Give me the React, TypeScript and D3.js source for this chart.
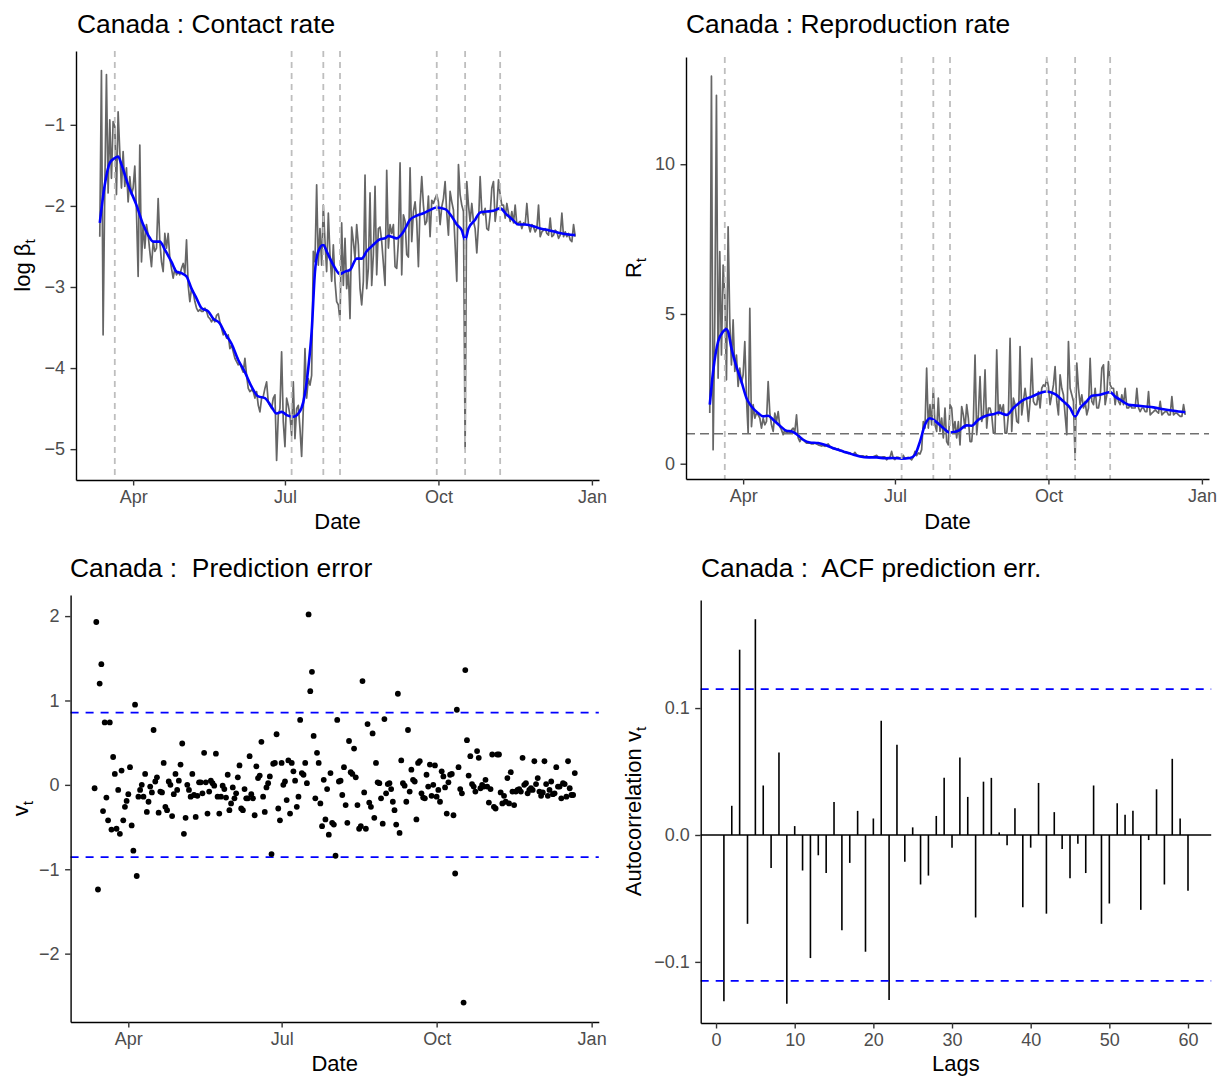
import React, { useEffect, useRef } from 'react';
import * as d3 from 'd3';

const FONT = "'Liberation Sans', Arial, Helvetica, sans-serif";
const W = 1218;
const H = 1077;

// first day of every daily series
const startDate = '2020-03-12';

// dates of the vertical dashed lines
const policyDates = ['2020-03-21', '2020-07-05', '2020-07-24', '2020-08-03', '2020-09-30', '2020-10-17', '2020-11-07'];
const monthTicks = ['2020-04-01', '2020-07-01', '2020-10-01', '2021-01-01'];

// log beta_t, one value per day
const contactRaw = [
  -2.38, -0.33, -3.59, -1.8, -0.38, -1.84, -0.94, -1.66, -0.96, -1.02,
  -1.86, -0.84, -1.33, -1.78, -1.33, -1.76, -1.53, -1.95, -1.64, -1.86,
  -1.78, -1.51, -2.07, -2.87, -1.25, -2.69, -2.23, -2.52, -2.23, -2.36,
  -2.56, -2.75, -2.44, -2.56, -2.52, -1.91, -2.44, -2.69, -2.81, -2.34,
  -2.52, -2.34, -2.65, -2.77, -2.89, -2.77, -2.85, -2.81, -2.85, -2.77,
  -2.71, -2.83, -2.42, -2.98, -3.18, -3.02, -3.06, -3.18, -3.26, -3.3,
  -3.28, -3.3, -3.3, -3.26, -3.3, -3.37, -3.39, -3.43, -3.39, -3.43,
  -3.35, -3.33, -3.43, -3.51, -3.59, -3.55, -3.63, -3.59, -3.76, -3.72,
  -3.8, -3.88, -3.92, -3.96, -3.94, -4.0, -4.05, -3.88, -4.09, -4.25,
  -4.29, -4.27, -4.29, -4.37, -4.29, -4.46, -4.54, -4.37, -4.35, -4.25,
  -4.17, -4.42, -4.46, -4.5, -4.37, -4.33, -5.14, -4.58, -4.5, -3.8,
  -4.66, -4.97, -4.37, -4.46, -4.58, -4.83, -4.17, -4.87, -4.5, -4.46,
  -4.74, -5.09, -4.5, -3.76, -4.37, -4.13, -4.21, -4.09, -2.56, -2.69,
  -1.74, -2.73, -2.28, -2.73,
  -1.99, -2.44, -2.81, -2.09, -2.6, -2.93, -2.48, -2.93, -3.18, -3.22,
  -3.41, -2.21, -2.98, -2.4, -3.02, -2.81, -3.39, -2.26, -2.44, -2.65,
  -2.23, -2.48, -3.02, -3.22, -2.93, -1.62, -3.02, -2.77, -1.84, -2.98,
  -2.6, -1.76, -2.85, -2.28, -2.26, -2.44, -2.71, -2.98, -1.56, -2.52,
  -2.23, -2.34, -2.23, -2.75, -2.77, -2.44, -1.47, -2.85, -2.11, -2.19,
  -2.6, -2.63, -1.53, -2.44, -2.07, -1.95, -2.19, -2.75, -1.99, -1.64,
  -1.99, -2.23, -2.19, -1.88, -2.38, -1.93, -1.97, -1.91, -1.86, -1.95,
  -2.23, -2.01, -1.91, -1.7, -2.09, -2.36, -1.82, -1.95, -2.05, -2.48,
  -2.93, -1.49, -1.86, -1.99, -2.07, -4.99, -1.7, -1.99, -2.19, -1.97,
  -2.19, -2.28, -2.58, -2.23, -1.64, -2.07, -2.11, -2.03, -2.28, -2.3,
  -2.11, -1.78, -1.7, -2.19, -2.03, -1.68, -1.86, -1.99, -1.99, -2.15,
  -1.97, -2.09, -2.19, -2.07, -2.21, -1.99, -2.23, -2.21, -2.19, -2.28,
  -2.21, -2.23, -1.97, -2.23, -2.32, -2.23, -2.26, -2.32, -2.28, -1.99,
  -2.38, -2.32, -2.3, -2.28, -2.34, -2.36, -2.15, -2.38, -2.36, -2.3,
  -2.32, -2.4, -2.36, -2.09, -2.38, -2.32, -2.38, -2.34, -2.42, -2.44,
  -2.23, -2.38,
];

// smoothed log beta_t (day index from startDate, value)
const contactSmoothDay = [
  0, 3, 6, 9, 11, 13, 17, 22, 26, 29, 32, 36, 39, 43, 46, 49, 52, 55, 58, 61,
  65, 68, 72, 75, 79, 83, 87, 91, 95, 99, 103, 106, 109, 112, 116, 119, 122, 125, 127, 129,
  131, 134, 136, 140, 144, 147, 150, 154, 157, 160, 164, 168, 171, 173, 175, 178, 182, 186, 190, 194,
  198, 202, 207, 211, 214, 217, 219, 221, 225, 228, 232, 236, 240, 244, 247, 251, 255, 260, 264, 269,
  271, 275, 280, 285,
];
const contactSmooth = [
  -2.21, -1.74, -1.47, -1.41, -1.39, -1.49, -1.74, -1.99, -2.23, -2.36, -2.44, -2.44, -2.54, -2.69, -2.81, -2.83, -2.87, -3.02, -3.14, -3.26,
  -3.3, -3.39, -3.45, -3.57, -3.7, -3.9, -4.05, -4.23, -4.35, -4.37, -4.48, -4.56, -4.54, -4.58, -4.6, -4.56, -4.42, -4.0, -3.55, -2.81,
  -2.56, -2.48, -2.56, -2.73, -2.84, -2.81, -2.79, -2.65, -2.65, -2.56, -2.48, -2.41, -2.4, -2.37, -2.38, -2.4, -2.32, -2.17, -2.12, -2.09,
  -2.05, -2.02, -2.04, -2.13, -2.23, -2.3, -2.42, -2.28, -2.17, -2.08, -2.07, -2.06, -2.03, -2.11, -2.16, -2.23, -2.23, -2.25, -2.28, -2.3,
  -2.31, -2.33, -2.35, -2.36,
];

// R_t, one value per day
const reproRaw = [
  1.69, 12.94, 0.47, 4.74, 12.3, 2.86, 7.08, 3.63, 6.63, 5.63,
  2.8, 7.91, 4.74, 3.3, 4.8, 3.08, 3.63, 2.58, 3.19, 2.69,
  2.97, 4.08, 2.19, 1.02, 5.19, 1.24, 1.97, 1.52, 1.69, 1.63,
  1.52, 1.19, 1.52, 1.3, 1.41, 2.74, 1.69, 1.3, 1.08, 1.69,
  1.41, 1.74, 1.24, 1.13, 0.97, 1.13, 1.02, 1.08, 1.02, 1.13,
  1.19, 1.08, 1.63, 0.86, 0.74, 0.86, 0.8, 0.74, 0.69, 0.69,
  0.69, 0.66, 0.66, 0.69, 0.66, 0.63, 0.61, 0.59, 0.61, 0.58,
  0.63, 0.66, 0.58, 0.54, 0.5, 0.52, 0.48, 0.5, 0.43, 0.44,
  0.41, 0.38, 0.36, 0.34, 0.36, 0.32, 0.31, 0.38, 0.3, 0.27,
  0.26, 0.26, 0.26, 0.23, 0.26, 0.22, 0.21, 0.23, 0.23, 0.26,
  0.28, 0.22, 0.21, 0.21, 0.23, 0.23, 0.13, 0.19, 0.21, 0.41,
  0.18, 0.14, 0.22, 0.21, 0.19, 0.17, 0.28, 0.17, 0.2, 0.21,
  0.18, 0.13, 0.22, 0.41, 0.27, 0.36, 0.32, 0.47, 1.41, 1.19,
  3.19, 1.19, 1.97, 1.3,
  2.52, 1.3, 1.08, 2.19, 1.08, 1.52, 0.86, 1.86, 0.74, 0.63,
  1.97, 1.86, 1.08, 1.41, 0.86, 1.41, 0.63, 1.91, 1.63, 1.19,
  1.97, 1.52, 0.74, 0.74, 1.41, 3.63, 0.97, 1.63, 2.91,
  1.41, 1.63, 3.13, 1.19, 1.86, 1.86, 1.63, 1.02, 1.02, 3.8,
  1.63, 1.97, 1.74, 1.97, 1.02, 1.02, 1.63, 4.19, 1.08, 2.19,
  1.97, 1.41, 1.36, 3.91, 1.63, 2.08, 2.52, 2.08, 1.41, 2.08,
  3.52, 2.08, 1.97, 1.97, 2.41, 1.86, 2.52, 2.63, 2.58, 2.86,
  2.58, 1.97, 2.3, 2.63, 3.24, 2.08, 1.63, 2.97, 2.52, 2.3,
  1.63, 0.97, 4.08, 2.52, 2.3, 2.08, 0.13, 3.36, 2.52, 1.97,
  2.3, 1.86, 2.08, 1.63, 1.86, 3.52, 2.08, 1.97, 2.52, 1.86,
  1.86, 2.19, 3.19, 3.3, 1.97, 2.3, 3.41, 2.63, 2.52, 2.52,
  1.97, 2.41, 2.08, 1.97, 2.3, 1.97, 2.52, 1.86, 1.86, 1.97,
  1.86, 1.86, 1.86, 2.52, 1.86, 1.74, 1.86, 1.86, 1.74, 1.74,
  2.41, 1.63, 1.69, 1.74, 1.8, 1.74, 1.69, 2.08, 1.63, 1.69,
  1.74, 1.74, 1.63, 1.63, 2.24, 1.63, 1.69, 1.69, 1.63, 1.58,
  1.58, 1.97, 1.63,
];

const reproSmoothDay = [
  0, 2, 5, 8, 10, 11, 13, 16, 19, 22, 25, 29, 32, 35, 38, 42, 46, 49, 52, 56,
  60, 65, 70, 75, 80, 85, 90, 95, 100, 105, 110, 115, 120, 123, 126, 129, 132, 135, 140, 144,
  149, 154, 157, 161, 166, 171, 173, 178, 182, 188, 193, 198, 202, 207, 212, 216, 219, 222, 226, 229,
  234, 240, 243, 247, 251, 256, 261, 266, 272, 278, 285,
];
const reproSmooth = [
  1.97, 3.08, 4.08, 4.41, 4.5, 4.41, 3.86, 3.24, 2.74, 2.19, 1.91, 1.69, 1.58, 1.6, 1.47, 1.27, 1.1, 1.08, 0.99, 0.8,
  0.71, 0.69, 0.61, 0.5, 0.41, 0.32, 0.24, 0.21, 0.21, 0.18, 0.19, 0.17, 0.19, 0.3, 0.74, 1.3, 1.52, 1.43, 1.19, 1.04,
  1.1, 1.28, 1.27, 1.47, 1.61, 1.67, 1.71, 1.63, 1.86, 2.13, 2.24, 2.36, 2.41, 2.32, 2.08, 1.86, 1.58, 1.86, 2.08, 2.27,
  2.3, 2.39, 2.24, 2.1, 1.97, 1.94, 1.91, 1.88, 1.82, 1.77, 1.72,
];
const reproThreshold = 1;

// prediction error v_t, one value per day
const predError = [
  -0.04, 1.93, -1.24, 1.2, 1.43, -0.31, 0.74, -0.15, -0.42, 0.74,
  -0.53, 0.33, 0.13, -0.52, -0.06, -0.58, 0.17, -0.42, -0.26, -0.19,
  -0.11, 0.21, -0.48, -0.78, 0.95, -1.08, -0.14, -0.06, 0.0, -0.14,
  0.13, -0.32, -0.2, -0.02, -0.09, 0.65, 0.04, 0.09, -0.33, -0.08,
  -0.09, 0.26, -0.26, -0.3, 0.04, 0.0, -0.37, -0.11, 0.13, -0.06,
  0.05, 0.24, 0.49, -0.58, -0.39, 0.0, -0.06, -0.14, 0.13, -0.12,
  -0.38, -0.13, 0.03, 0.03, -0.1, 0.38, 0.03, -0.34, -0.08, 0.05,
  0.02, -0.01, 0.37, -0.14, -0.34, -0.14, -0.01, -0.05, -0.15, 0.12,
  -0.3, -0.22, -0.03, -0.16, -0.1, 0.09, 0.23, -0.28, -0.3, -0.05,
  -0.16, -0.16, 0.34, -0.11, -0.16, -0.36, 0.22, 0.08, 0.11, 0.51,
  -0.14, -0.32, -0.03, 0.02, 0.1, -0.82, 0.25, 0.26, 0.6, -0.28,
  -0.42, 0.26, 0.0, 0.04, -0.18, 0.29, -0.34, 0.26, 0.16, 0.05,
  -0.26, -0.14, 0.77, 0.14, 0.12, 0.26, 0.02, 2.02, 1.11,
  1.34, 0.58, -0.16, 0.38, 0.26, -0.22, -0.49, 0.06, -0.41, -0.05,
  -0.59, 0.14, -0.45, -0.47, -0.84, 0.77, 0.04,
  0.05, -0.12, 0.21, -0.24, -0.45, 0.52, 0.15, 0.13, 0.43, 0.09,
  -0.24, -0.52, -0.49, 1.23, -0.09, -0.52, 0.72, -0.21, -0.26, 0.61,
  -0.39, 0.26, 0.03, 0.02, -0.16, -0.46, 0.78, -0.1, 0.01, 0.02,
  -0.05, -0.2, -0.3, -0.47, 1.08, -0.57, 0.29, 0.02, -0.01, -0.2,
  0.65, -0.08, 0.18, 0.06, 0.04, -0.41, 0.26, 0.28, -0.1, -0.15,
  -0.16, 0.12, -0.02, 0.24, -0.13, 0.0, 0.23, -0.14, -0.06, -0.2,
  0.16, 0.1, -0.03, -0.34, 0.03, 0.12, 0.13, -0.36,
  -1.05, 0.89, 0.21, -0.05, -0.1, -2.58, 1.36, 0.53, 0.11, 0.34,
  0.01, -0.02, -0.08, 0.4, 0.32, -0.04, 0.0, -0.02, 0.06, -0.02,
  -0.21, -0.05, 0.36, -0.26, -0.28, 0.36, 0.36, -0.09, -0.22, -0.13,
  -0.2, 0.08, -0.22, 0.15, -0.08, -0.24, -0.08, -0.06, -0.05, -0.08,
  0.32, 0.0, 0.02, -0.1, -0.06, -0.04, -0.06,
  0.28,
  0.01, 0.08, -0.08, -0.13, -0.09, 0.28, 0.01, -0.13, -0.06, 0.04,
  -0.11, -0.1, 0.21, -0.02, -0.02, -0.16, 0.02, 0.01, -0.14, 0.28,
  -0.04, -0.12, -0.12, 0.14,
];
const predBand = 0.856;

// autocorrelation of v_t, lags 1..60
const acfLag = d3.range(1, 61);
const acfValue = [
  -0.131, 0.023, 0.146, -0.07, 0.17, 0.039, -0.026, 0.065, -0.133, 0.007,
  -0.028, -0.097, -0.016, -0.03, 0.026, -0.075, -0.022, 0.019, -0.092, 0.013,
  0.09, -0.13, 0.071, -0.021, 0.006, -0.039, -0.032, 0.015, 0.045, -0.01,
  0.061, 0.03, -0.065, 0.042, 0.045, 0.002, -0.008, 0.021, -0.057, -0.01,
  0.041, -0.062, 0.018, -0.011, -0.034, -0.007, -0.03, 0.039, -0.07, -0.054,
  0.025, 0.016, 0.019, -0.059, -0.004, 0.036, -0.039, 0.06, 0.013, -0.044,
];
const acfBand = 0.115;

type Box = { left: number; right: number; top: number; bottom: number };

const parse = d3.timeParse('%Y-%m-%d');
const start = parse(startDate) as Date;
const dayToDate = (i: number) => d3.timeDay.offset(start, i);
const intFmt = d3.format('d');

// ggplot-like 5% expansion
function pad(ext: [number, number], f = 0.05): [number, number] {
  const d = (ext[1] - ext[0]) * f;
  return [ext[0] - d, ext[1] + d];
}

function styleAxis(a: any) {
  a.attr('font-size', 18).attr('font-family', FONT);
  a.select('.domain').attr('stroke', '#000').attr('stroke-width', 1.4);
  a.selectAll('.tick line').attr('stroke', '#333333').attr('stroke-width', 1.4);
  a.selectAll('.tick text').attr('fill', '#4D4D4D');
}

function axes(svg: any, box: Box, xAxis: any, yAxis: any) {
  const gx = svg.append('g').attr('transform', `translate(0,${box.bottom})`).call(xAxis);
  const gy = svg.append('g').attr('transform', `translate(${box.left},0)`).call(yAxis);
  styleAxis(gx);
  styleAxis(gy);
}

function title(svg: any, x: number, y: number, txt: string) {
  svg.append('text')
    .attr('x', x).attr('y', y)
    .attr('font-size', 26.4).attr('font-family', FONT).attr('fill', '#000')
    .style('white-space', 'pre')
    .text(txt);
}

function xTitle(svg: any, box: Box, y: number, txt: string) {
  svg.append('text')
    .attr('x', (box.left + box.right) / 2).attr('y', y)
    .attr('text-anchor', 'middle')
    .attr('font-size', 22).attr('font-family', FONT).attr('fill', '#000')
    .text(txt);
}

function yTitle(svg: any, x: number, y: number, main: string, sub: string) {
  const t = svg.append('text')
    .attr('transform', `translate(${x},${y}) rotate(-90)`)
    .attr('text-anchor', 'middle')
    .attr('font-size', 22).attr('font-family', FONT).attr('fill', '#000');
  t.append('tspan').text(main);
  t.append('tspan').attr('font-size', 15.4).attr('dy', 5).text(sub);
}

function dateAxis(x: any) {
  return d3.axisBottom(x)
    .tickValues(monthTicks.map(d => parse(d) as Date))
    .tickFormat(d3.timeFormat('%b') as any)
    .tickSizeInner(5.5).tickSizeOuter(0).tickPadding(5);
}

function valueAxis(y: any, ticks: number[], fmt: any = intFmt) {
  return d3.axisLeft(y).tickValues(ticks).tickFormat(fmt)
    .tickSizeInner(5.5).tickSizeOuter(0).tickPadding(5.5);
}

function timeScale(n: number, box: Box) {
  const [a, b] = pad([start.getTime(), dayToDate(n - 1).getTime()]);
  return d3.scaleTime().domain([new Date(a), new Date(b)]).range([box.left, box.right]);
}

function vLines(svg: any, box: Box, x: any) {
  svg.append('g').selectAll('line')
    .data(policyDates.map(d => parse(d) as Date))
    .enter().append('line')
    .attr('x1', (d: Date) => x(d)).attr('x2', (d: Date) => x(d))
    .attr('y1', box.top).attr('y2', box.bottom)
    .attr('stroke', '#BEBEBE').attr('stroke-width', 1.8)
    .attr('stroke-dasharray', '6,5');
}

const App: React.FC = () => {
  const svgRef = useRef<SVGSVGElement>(null);

  useEffect(() => {
    if (!svgRef.current) return;
    const svg = d3.select(svgRef.current);
    svg.selectAll('*').remove();

    // ---------- Contact rate ----------
    {
      const box: Box = { left: 76, right: 599, top: 51, bottom: 480 };
      const x = timeScale(contactRaw.length, box);
      const y = d3.scaleLinear()
        .domain(pad(d3.extent([...contactRaw, ...contactSmooth]) as [number, number]))
        .range([box.bottom, box.top]);

      const raw = contactRaw.map((v, i) => [dayToDate(i), v] as [Date, number]);
      const smooth = contactSmoothDay.map((d, i) => [dayToDate(d), contactSmooth[i]] as [Date, number]);
      const line = d3.line<[Date, number]>().x(d => x(d[0])).y(d => y(d[1]));

      svg.append('path').attr('d', line(raw)).attr('fill', 'none')
        .attr('stroke', '#666666').attr('stroke-width', 1.7).attr('stroke-linejoin', 'round');
      svg.append('path').attr('d', line.curve(d3.curveMonotoneX)(smooth)).attr('fill', 'none')
        .attr('stroke', 'blue').attr('stroke-width', 2.6);
      vLines(svg, box, x);

      axes(svg, box, dateAxis(x), valueAxis(y, [-5, -4, -3, -2, -1]));
      title(svg, 77, 33, 'Canada : Contact rate');
      xTitle(svg, box, 529, 'Date');
      yTitle(svg, 30, (box.top + box.bottom) / 2, 'log β', 't');
    }

    // ---------- Reproduction rate ----------
    {
      const box: Box = { left: 686, right: 1209, top: 57, bottom: 479 };
      const x = timeScale(reproRaw.length, box);
      const y = d3.scaleLinear()
        .domain(pad(d3.extent([...reproRaw, ...reproSmooth]) as [number, number]))
        .range([box.bottom, box.top]);

      const raw = reproRaw.map((v, i) => [dayToDate(i), v] as [Date, number]);
      const smooth = reproSmoothDay.map((d, i) => [dayToDate(d), reproSmooth[i]] as [Date, number]);
      const line = d3.line<[Date, number]>().x(d => x(d[0])).y(d => y(d[1]));

      svg.append('path').attr('d', line(raw)).attr('fill', 'none')
        .attr('stroke', '#666666').attr('stroke-width', 1.7).attr('stroke-linejoin', 'round');
      svg.append('path').attr('d', line.curve(d3.curveMonotoneX)(smooth)).attr('fill', 'none')
        .attr('stroke', 'blue').attr('stroke-width', 2.6);
      vLines(svg, box, x);
      svg.append('line')
        .attr('x1', box.left).attr('x2', box.right)
        .attr('y1', y(reproThreshold)).attr('y2', y(reproThreshold))
        .attr('stroke', '#707070').attr('stroke-width', 1.7).attr('stroke-dasharray', '9,5');

      axes(svg, box, dateAxis(x), valueAxis(y, [0, 5, 10]));
      title(svg, 686, 33, 'Canada : Reproduction rate');
      xTitle(svg, box, 529, 'Date');
      yTitle(svg, 641, (box.top + box.bottom) / 2, 'R', 't');
    }

    // ---------- Prediction error ----------
    {
      const box: Box = { left: 70.6, right: 598.8, top: 595, bottom: 1022 };
      const x = timeScale(predError.length, box);
      const y = d3.scaleLinear()
        .domain(pad(d3.extent([...predError, predBand, -predBand]) as [number, number]))
        .range([box.bottom, box.top]);

      [predBand, -predBand].forEach(b => {
        svg.append('line')
          .attr('x1', box.left).attr('x2', box.right)
          .attr('y1', y(b)).attr('y2', y(b))
          .attr('stroke', 'blue').attr('stroke-width', 1.7).attr('stroke-dasharray', '8,7');
      });

      svg.append('g').selectAll('circle')
        .data(predError)
        .enter().append('circle')
        .attr('cx', (_d, i) => x(dayToDate(i)))
        .attr('cy', d => y(d))
        .attr('r', 2.9)
        .attr('fill', '#000');

      axes(svg, box, dateAxis(x), valueAxis(y, [-2, -1, 0, 1, 2]));
      title(svg, 70, 577, 'Canada :  Prediction error');
      xTitle(svg, box, 1071, 'Date');
      yTitle(svg, 28, (box.top + box.bottom) / 2, 'v', 't');
    }

    // ---------- ACF ----------
    {
      const box: Box = { left: 700.7, right: 1211.2, top: 600, bottom: 1023 };
      const x = d3.scaleLinear()
        .domain(pad(d3.extent(acfLag) as [number, number]))
        .range([box.left, box.right]);
      const y = d3.scaleLinear()
        .domain(pad(d3.extent([...acfValue, acfBand, -acfBand, 0]) as [number, number]))
        .range([box.bottom, box.top]);

      svg.append('line')
        .attr('x1', box.left).attr('x2', box.right)
        .attr('y1', y(0)).attr('y2', y(0))
        .attr('stroke', '#000').attr('stroke-width', 1.6);

      svg.append('g').selectAll('line')
        .data(acfLag)
        .enter().append('line')
        .attr('x1', d => x(d)).attr('x2', d => x(d))
        .attr('y1', y(0)).attr('y2', (_d, i) => y(acfValue[i]))
        .attr('stroke', '#000').attr('stroke-width', 1.6);

      [acfBand, -acfBand].forEach(b => {
        svg.append('line')
          .attr('x1', box.left).attr('x2', box.right)
          .attr('y1', y(b)).attr('y2', y(b))
          .attr('stroke', 'blue').attr('stroke-width', 1.7).attr('stroke-dasharray', '8,7');
      });

      axes(svg, box,
        d3.axisBottom(x).tickValues([0, 10, 20, 30, 40, 50, 60]).tickFormat(intFmt as any)
          .tickSizeInner(5.5).tickSizeOuter(0).tickPadding(5),
        valueAxis(y, [-0.1, 0, 0.1], d3.format('.1f')));
      title(svg, 701, 577, 'Canada :  ACF prediction err.');
      xTitle(svg, box, 1071, 'Lags');
      yTitle(svg, 641, (box.top + box.bottom) / 2, 'Autocorrelation v', 't');
    }
  }, []);

  return (
    <div style={{ position: 'absolute', left: 0, top: 0 }}>
      <svg ref={svgRef} width={W} height={H} style={{ display: 'block', background: '#fff' }} />
    </div>
  );
};

export default App;
